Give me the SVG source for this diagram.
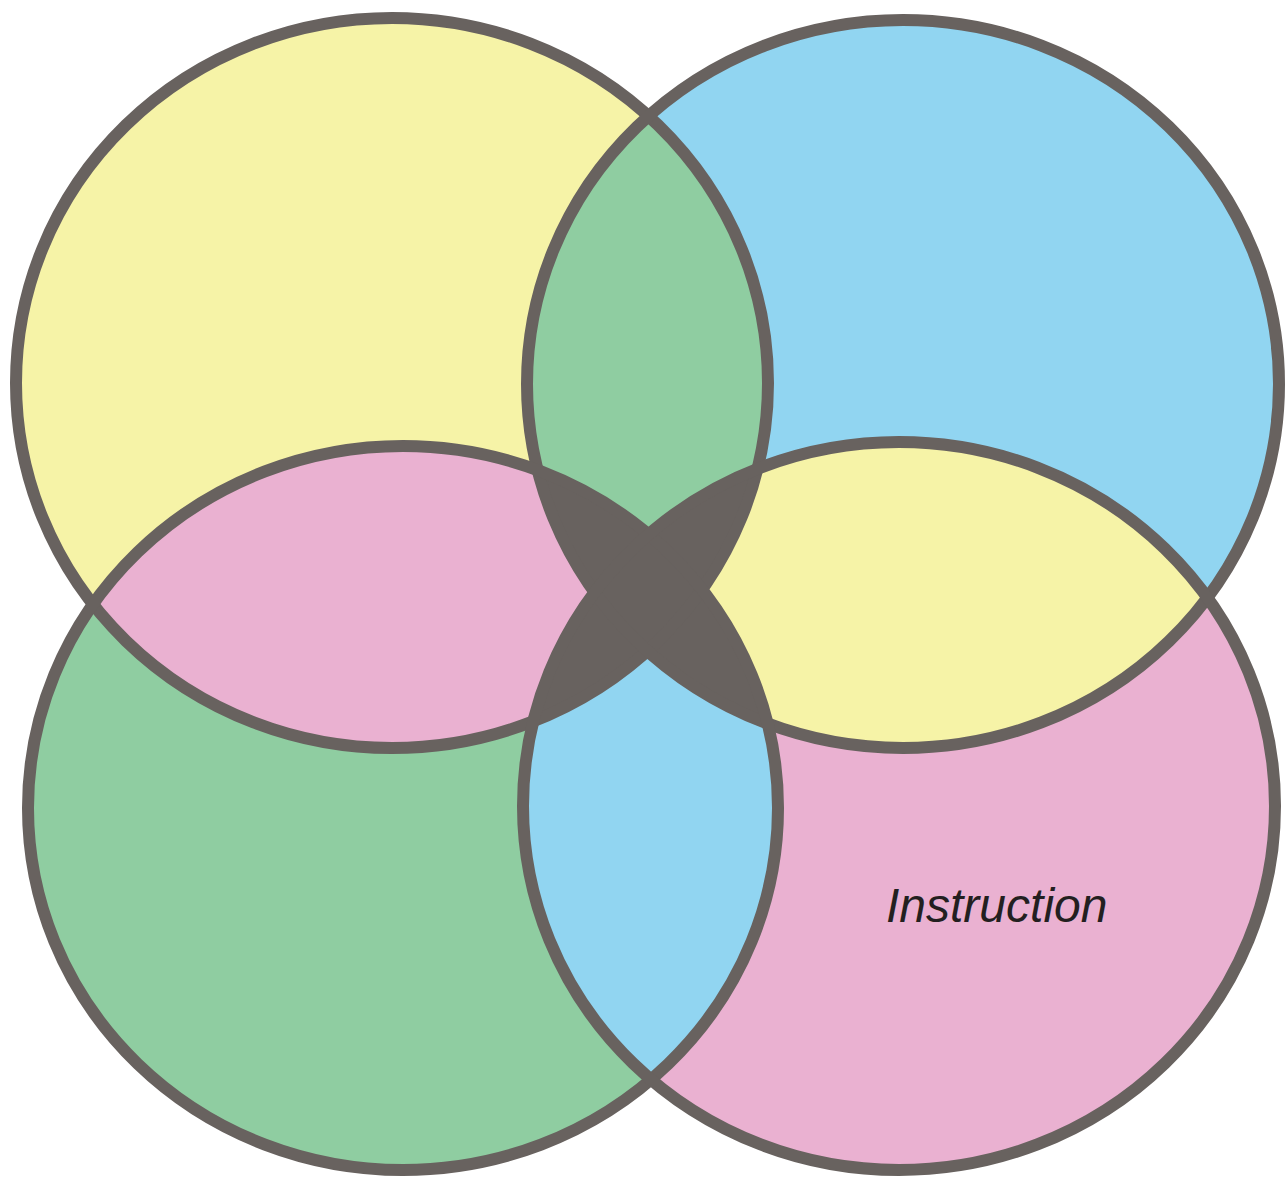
<svg xmlns="http://www.w3.org/2000/svg" xmlns:xlink="http://www.w3.org/1999/xlink" width="1288" height="1180" viewBox="0 0 1288 1180">
  <style>
    .yellow { fill: #F6F3A7; }
    .blue { fill: #91D5F1; }
    .green { fill: #8FCDA1; }
    .pink { fill: #EAB1D1; }
    .dark { fill: #68625F; }
    .outline { fill: none; stroke: #68625F; stroke-width: 12; }
    .label { font-family: "Liberation Sans", Arial, sans-serif; font-style: italic; font-size: 48px; fill: #231F20; }
  </style>
  <defs>
    <ellipse id="eTL" cx="392" cy="383" rx="376" ry="365"/>
    <ellipse id="eTR" cx="903" cy="384" rx="376" ry="364"/>
    <ellipse id="eBL" cx="403" cy="808" rx="375" ry="362"/>
    <ellipse id="eBR" cx="899" cy="806" rx="376" ry="364"/>
    <clipPath id="cTL"><use xlink:href="#eTL"/></clipPath>
    <clipPath id="cTR"><use xlink:href="#eTR"/></clipPath>
    <clipPath id="cBL"><use xlink:href="#eBL"/></clipPath>
    <clipPath id="cBR"><use xlink:href="#eBR"/></clipPath>
  </defs>
  <rect width="1288" height="1180" fill="#FFFFFF"/>
  <g id="circle-top-left"><use xlink:href="#eTL" class="yellow"/></g>
  <g id="circle-top-right"><use xlink:href="#eTR" class="blue"/></g>
  <g id="circle-bottom-left"><use xlink:href="#eBL" class="green"/></g>
  <g id="circle-bottom-right"><use xlink:href="#eBR" class="pink"/></g>
  <g id="overlaps">
    <g clip-path="url(#cTL)"><use xlink:href="#eTR" class="green"/></g>
    <g clip-path="url(#cTL)"><use xlink:href="#eBL" class="pink"/></g>
    <g clip-path="url(#cTR)"><use xlink:href="#eBR" class="yellow"/></g>
    <g clip-path="url(#cBL)"><use xlink:href="#eBR" class="blue"/></g>
    <g clip-path="url(#cTL)"><use xlink:href="#eBR" class="dark"/></g>
    <g clip-path="url(#cTR)"><use xlink:href="#eBL" class="dark"/></g>
  </g>
  <g id="outlines">
    <use xlink:href="#eTL" class="outline"/>
    <use xlink:href="#eTR" class="outline"/>
    <use xlink:href="#eBL" class="outline"/>
    <use xlink:href="#eBR" class="outline"/>
  </g>
  <g id="label-instruction">
    <text class="label" x="886" y="922">Instruction</text>
  </g>
</svg>
